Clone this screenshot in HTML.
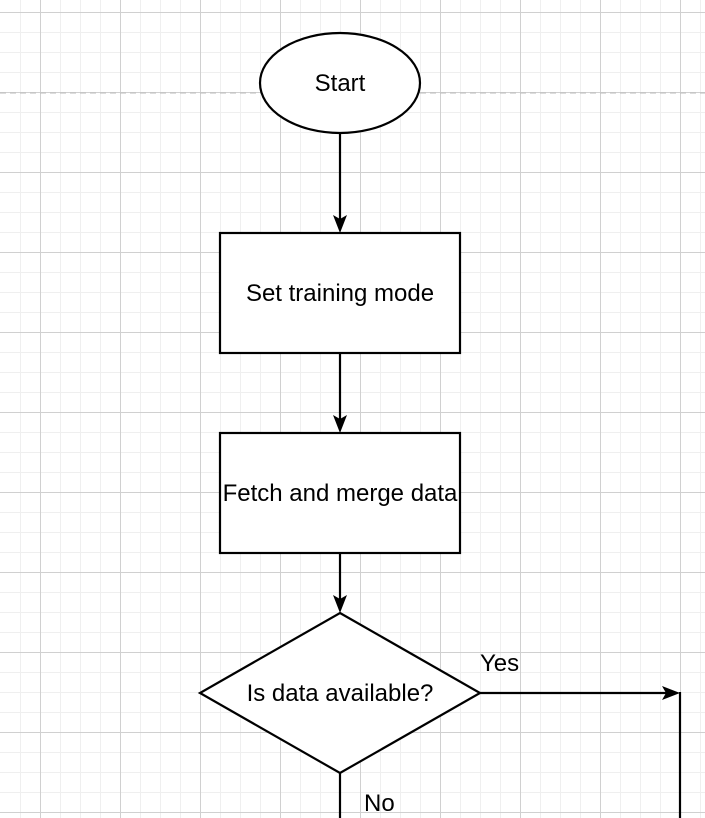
<!DOCTYPE html>
<html><head><style>
html,body{margin:0;padding:0;background:#fff;}
svg{display:block;}
text{font-family:"Liberation Sans",Helvetica,Arial,sans-serif;font-size:24px;fill:#000;}
</style></head><body>
<svg width="705" height="818" xmlns="http://www.w3.org/2000/svg">
<g stroke="#efefef" stroke-width="1">
<path d="M20.5 0V818M60.5 0V818M80.5 0V818M100.5 0V818M140.5 0V818M160.5 0V818M180.5 0V818M220.5 0V818M240.5 0V818M260.5 0V818M300.5 0V818M320.5 0V818M340.5 0V818M380.5 0V818M400.5 0V818M420.5 0V818M460.5 0V818M480.5 0V818M500.5 0V818M540.5 0V818M560.5 0V818M580.5 0V818M620.5 0V818M640.5 0V818M660.5 0V818M700.5 0V818"/>
<path d="M0 32.5H705M0 52.5H705M0 72.5H705M0 112.5H705M0 132.5H705M0 152.5H705M0 192.5H705M0 212.5H705M0 232.5H705M0 272.5H705M0 292.5H705M0 312.5H705M0 352.5H705M0 372.5H705M0 392.5H705M0 432.5H705M0 452.5H705M0 472.5H705M0 512.5H705M0 532.5H705M0 552.5H705M0 592.5H705M0 612.5H705M0 632.5H705M0 672.5H705M0 692.5H705M0 712.5H705M0 752.5H705M0 772.5H705M0 792.5H705"/>
</g>
<g stroke="#d0d0d0" stroke-width="1">
<path d="M40.5 0V818M120.5 0V818M200.5 0V818M280.5 0V818M360.5 0V818M440.5 0V818M520.5 0V818M600.5 0V818M680.5 0V818"/>
<path d="M0 12.5H705M0 92.5H705M0 172.5H705M0 252.5H705M0 332.5H705M0 412.5H705M0 492.5H705M0 572.5H705M0 652.5H705M0 732.5H705M0 812.5H705"/>
</g>
<line x1="0" y1="93" x2="705" y2="93" stroke="#bbb" stroke-dasharray="6,4"/>
<g stroke="#000" stroke-width="2.2" fill="#fff">
<ellipse cx="340" cy="83" rx="80" ry="50"/>
<rect x="220" y="233" width="240" height="120"/>
<rect x="220" y="433" width="240" height="120"/>
<polygon points="340,613 480,693 340,773 200,693"/>
<line x1="340" y1="133" x2="340" y2="220"/>
<line x1="340" y1="353" x2="340" y2="420"/>
<line x1="340" y1="553" x2="340" y2="600"/>
<line x1="480" y1="693" x2="668" y2="693"/>
<line x1="680" y1="692" x2="680" y2="818"/>
<line x1="340" y1="773" x2="340" y2="818"/>
</g>
<g fill="#000">
<path d="M340 233L333 215L340 219L347 215Z"/>
<path d="M340 433L333 415L340 419L347 415Z"/>
<path d="M340 613L333 595L340 599L347 595Z"/>
<path d="M680 693L662 686L666 693L662 700Z"/>
</g>
<text x="340" y="91" text-anchor="middle">Start</text>
<text x="340" y="301" text-anchor="middle">Set training mode</text>
<text x="340" y="501" text-anchor="middle">Fetch and merge data</text>
<text x="340" y="701" text-anchor="middle">Is data available?</text>
<text x="480" y="671">Yes</text>
<text x="364" y="811">No</text>
</svg>
</body></html>
